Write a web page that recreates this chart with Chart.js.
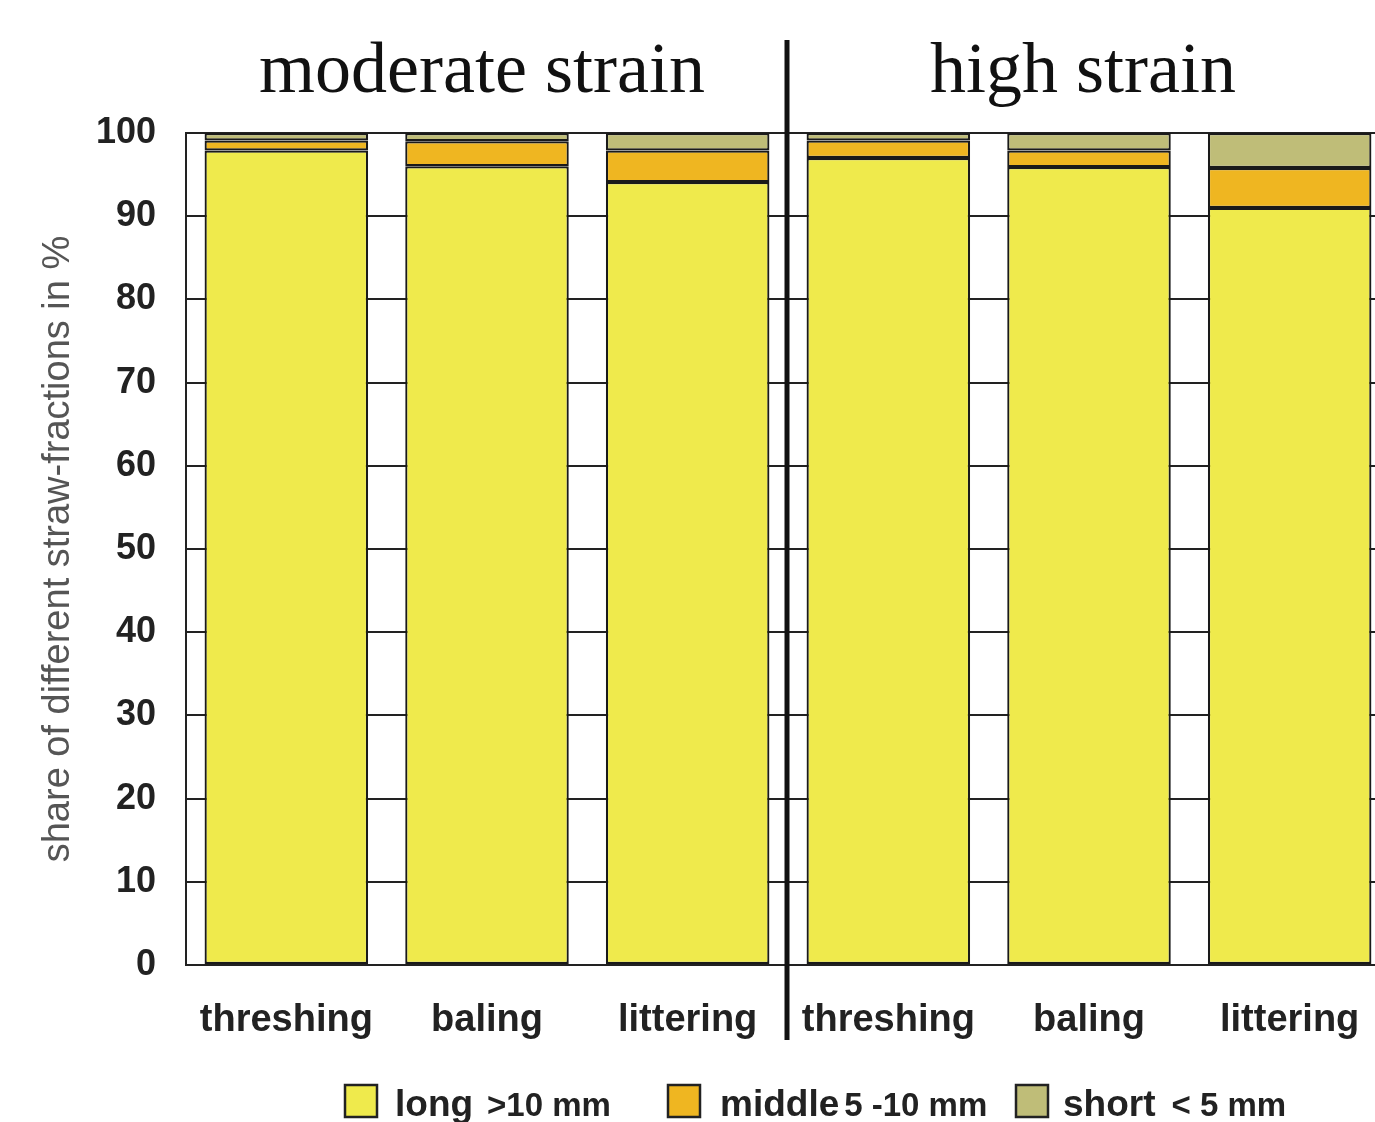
<!DOCTYPE html>
<html>
<head>
<meta charset="utf-8">
<script src="https://cdn.jsdelivr.net/npm/chart.js@4/dist/chart.umd.min.js"></script>
<style>
  html, body { margin: 0; padding: 0; background: #fff; overflow: hidden; }
  canvas { display: block; }
</style>
</head>
<body>
<canvas id="chart" width="1390" height="1122"></canvas>
<script>
// Data
const categories = ['threshing', 'baling', 'littering', 'threshing', 'baling', 'littering'];
const groupTitles = ['moderate strain', 'high strain'];
const longValues = [97.9, 96.0, 94.1, 97.0, 95.9, 91.0];
const middleValues = [1.2, 3.0, 3.8, 2.1, 2.0, 4.8];
const shortValues = [0.9, 1.0, 2.1, 0.9, 2.1, 4.2];
const yTicks = [0, 10, 20, 30, 40, 50, 60, 70, 80, 90, 100];
const seriesNames = ['long', 'middle', 'short'];
const seriesRanges = ['>10 mm', '5 -10 mm', '< 5 mm'];
const seriesColors = ['#EFEA4C', '#EFB621', '#BFBD78'];

// Titles, divider line and the two-size legend
const extrasPlugin = {
    id: 'extras',
    afterDraw(chart) {
        const ctx = chart.ctx;
        const x = chart.scales.x;
        ctx.save();

        // group titles
        ctx.fillStyle = '#111';
        ctx.font = '72px "Liberation Serif", serif';
        ctx.textAlign = 'center';
        ctx.textBaseline = 'alphabetic';
        ctx.fillText(groupTitles[0], x.getPixelForValue(1) - 5, 92);
        ctx.fillText(groupTitles[1], x.getPixelForValue(4) - 6, 92);

        // divider between the groups
        const divX = (x.getPixelForValue(2) + x.getPixelForValue(3)) / 2 - 1;
        ctx.strokeStyle = '#111';
        ctx.lineWidth = 5;
        ctx.beginPath();
        ctx.moveTo(divX, 40);
        ctx.lineTo(divX, 1040);
        ctx.stroke();

        // legend
        const boxStarts = [345, 668, 1016];
        const textStarts = [395, 720, 1063];
        const gaps = [14, 5, 16];
        const baseY = 1116;
        ctx.textAlign = 'left';
        seriesNames.forEach((name, i) => {
            const bx = boxStarts[i];
            ctx.fillStyle = seriesColors[i];
            ctx.fillRect(bx, 1085, 32, 32);
            ctx.strokeStyle = '#222';
            ctx.lineWidth = 2.5;
            ctx.strokeRect(bx, 1085, 32, 32);
            ctx.fillStyle = '#222';
            ctx.font = 'bold 37px "Liberation Sans", Arial, sans-serif';
            ctx.fillText(name, textStarts[i], baseY);
            const w = ctx.measureText(name).width;
            ctx.font = 'bold 33px "Liberation Sans", Arial, sans-serif';
            ctx.fillText(seriesRanges[i], textStarts[i] + w + gaps[i], baseY);
        });
        ctx.restore();
    }
};

const datasets = [longValues, middleValues, shortValues].map((vals, i) => ({
    label: seriesNames[i] + ' ' + seriesRanges[i],
    data: vals,
    backgroundColor: seriesColors[i],
    borderColor: '#1a1a1a',
    borderWidth: 2.2,
    borderSkipped: false,
    barPercentage: 0.815,
    categoryPercentage: 1.0
}));

new Chart(document.getElementById('chart'), {
    type: 'bar',
    data: { labels: categories, datasets: datasets },
    options: {
        responsive: false,
        animation: false,
        layout: { padding: { top: 133, left: 0, right: 0, bottom: 0 } },
        plugins: {
            legend: { display: false },
            tooltip: { enabled: false }
        },
        scales: {
            x: {
                stacked: true,
                grid: { display: false },
                border: { display: true, color: '#222', width: 2 },
                ticks: {
                    color: '#222',
                    padding: 25,
                    font: { family: '"Liberation Sans", Arial, sans-serif', size: 38, weight: 'bold' }
                },
                afterFit(scale) { scale.height = 157; }
            },
            y: {
                stacked: true,
                min: 0,
                max: 100,
                afterBuildTicks(scale) { scale.ticks = yTicks.map(v => ({ value: v })); },
                grid: { color: '#222', lineWidth: 2, drawTicks: false },
                border: { display: true, color: '#222', width: 2 },
                ticks: {
                    color: '#222',
                    padding: 30,
                    font: { family: '"Liberation Sans", Arial, sans-serif', size: 36, weight: 'bold' }
                },
                title: {
                    display: true,
                    text: 'share of different straw-fractions in %',
                    color: '#555',
                    font: { family: '"Liberation Sans", Arial, sans-serif', size: 38 },
                    padding: { top: 36, bottom: 0 }
                },
                afterFit(scale) { scale.width = 186; }
            }
        }
    },
    plugins: [extrasPlugin]
});
</script>
</body>
</html>
